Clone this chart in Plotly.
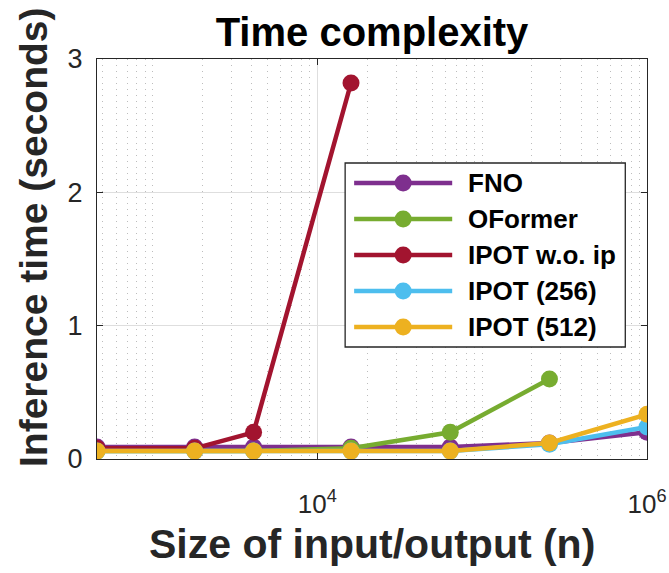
import plotly.graph_objects as go
import math

# ---------------- data ----------------
sizes = [460, 1800, 4100, 16000, 64000, 256000, 1000000]
series_names = ["FNO", "OFormer", "IPOT w.o. ip", "IPOT (256)", "IPOT (512)"]
fno = [0.09, 0.09, 0.09, 0.09, 0.09, 0.12, 0.20]
oformer = [0.06, 0.06, 0.06, 0.08, 0.20, 0.60]
ipot_wo_ip = [0.08, 0.08, 0.20, 2.82]
ipot_256 = [0.06, 0.06, 0.06, 0.06, 0.06, 0.11, 0.24]
ipot_512 = [0.06, 0.06, 0.06, 0.06, 0.06, 0.12, 0.335]
series_values = [fno, oformer, ipot_wo_ip, ipot_256, ipot_512]
colors = ["#7E2F8E", "#77AC30", "#A2142F", "#4DBEEE", "#EDB120"]
x_tick_vals = [1e4, 1e6]
x_tick_text = ["10<sup>4</sup>", "10<sup>6</sup>"]
y_tick_vals = [0, 1, 2, 3]

FONT = "Liberation Sans, Arial, Helvetica, sans-serif"
TXT = "#262626"

fig = go.Figure()
for name, vals, col in zip(series_names, series_values, colors):
    fig.add_trace(go.Scatter(
        x=sizes[:len(vals)], y=vals, name=name, mode="lines+markers",
        line=dict(color=col, width=4.5),
        marker=dict(color=col, size=17, line=dict(width=0)),
        showlegend=False,
    ))

# minor log grid positions
minor = []
for k in range(2, 6):
    for m in range(1, 10):
        v = m * 10 ** k
        if sizes[0] <= v <= sizes[-1] and v not in x_tick_vals:
            minor.append(v)

fig.update_layout(
    width=669, height=573,
    margin=dict(l=97, r=22, t=59, b=114),
    paper_bgcolor="white", plot_bgcolor="white",
    font=dict(family=FONT, color=TXT),
    title=dict(text="<b>Time complexity</b>", x=0.5, xref="paper", xanchor="center",
               y=1 - 32 / 573, yref="container", yanchor="middle",
               font=dict(size=40, color="black", family=FONT)),
)
fig.update_xaxes(
    type="log", range=[math.log10(sizes[0]), math.log10(sizes[-1])],
    automargin=False,
    tickvals=x_tick_vals, ticktext=x_tick_text,
    tickfont=dict(size=26, color=TXT), ticklabelstandoff=22,
    showline=True, linecolor=TXT, linewidth=1.3, mirror="ticks",
    ticks="inside", ticklen=6, tickcolor=TXT, tickwidth=1.3,
    showgrid=True, gridcolor="#dedede", gridwidth=1,
    minor=dict(tickvals=minor, showgrid=True, gridcolor="#bdbdbd",
               griddash="1px,5px", gridwidth=1, ticks=""),
    zeroline=False,
)
fig.update_yaxes(
    range=[0, 3], tickvals=y_tick_vals, automargin=False,
    tickfont=dict(size=27, color=TXT), ticklabelstandoff=8,
    showline=True, linecolor=TXT, linewidth=1.3, mirror="ticks",
    ticks="inside", ticklen=6, tickcolor=TXT, tickwidth=1.3,
    showgrid=True, gridcolor="#dedede", gridwidth=1,
    zeroline=False,
)

pw, ph = 549.7, 400.0
def px(x): return (x - 97) / pw
def py(y): return (459 - y) / ph

# axis labels
fig.add_annotation(text="<b>Size of input/output (n)</b>",
                   xref="paper", yref="paper", x=0.5, y=py(544),
                   xanchor="center", yanchor="middle", showarrow=False,
                   font=dict(size=41, color=TXT, family=FONT))
fig.add_annotation(text="<b>Inference time (seconds)</b>", textangle=-90,
                   xref="paper", yref="paper", x=px(34), y=py(237),
                   xanchor="center", yanchor="middle", showarrow=False,
                   font=dict(size=39, color=TXT, family=FONT))

# manual MATLAB-style legend
fig.add_shape(type="rect", xref="paper", yref="paper",
              x0=px(345), x1=px(625), y0=py(347), y1=py(163),
              line=dict(color=TXT, width=1.3), fillcolor="white", layer="above")
for i, (name, col) in enumerate(zip(series_names, colors)):
    yy = py(183 + 36 * i)
    fig.add_shape(type="line", xref="paper", yref="paper",
                  x0=px(354), x1=px(452), y0=yy, y1=yy,
                  line=dict(color=col, width=4.5), layer="above")
    fig.add_shape(type="circle", xref="paper", yref="paper",
                  xsizemode="pixel", ysizemode="pixel",
                  xanchor=px(403), yanchor=yy, x0=-8.5, x1=8.5, y0=-8.5, y1=8.5,
                  fillcolor=col, line=dict(width=0), layer="above")
    fig.add_annotation(text="<b>" + name + "</b>", xref="paper", yref="paper",
                       x=px(466), y=yy, xanchor="left", yanchor="middle",
                       showarrow=False, font=dict(size=26, color="black", family=FONT))

fig.write_html("out.html")
